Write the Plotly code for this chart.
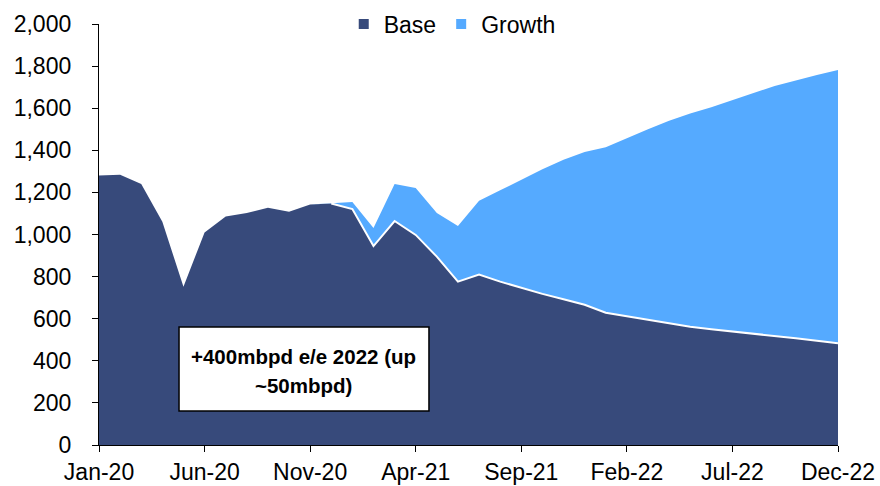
import plotly.graph_objects as go

# Monthly series, Jan-20 .. Dec-22 (mbpd)
months = [
    "Jan-20", "Feb-20", "Mar-20", "Apr-20", "May-20", "Jun-20",
    "Jul-20", "Aug-20", "Sep-20", "Oct-20", "Nov-20", "Dec-20",
    "Jan-21", "Feb-21", "Mar-21", "Apr-21", "May-21", "Jun-21",
    "Jul-21", "Aug-21", "Sep-21", "Oct-21", "Nov-21", "Dec-21",
    "Jan-22", "Feb-22", "Mar-22", "Apr-22", "May-22", "Jun-22",
    "Jul-22", "Aug-22", "Sep-22", "Oct-22", "Nov-22", "Dec-22",
]
base = [
    1280, 1284, 1240, 1060, 752, 1010,
    1085, 1102, 1127, 1108, 1142, 1147,
    1121, 945, 1064, 998, 895, 776,
    810, 776, 746, 718, 692, 666,
    628, 612, 595, 578, 562, 550,
    540, 529, 518, 507, 495, 483,
]
growth = [
    0, 0, 0, 0, 0, 0,
    0, 0, 0, 0, 0, 0,
    33, 86, 176, 223, 207, 264,
    350, 434, 514, 592, 663, 726,
    787, 846, 905, 962, 1013, 1055,
    1100, 1143, 1187, 1226, 1263, 1298,
]
tick_labels = ["Jan-20", "Jun-20", "Nov-20", "Apr-21", "Sep-21", "Feb-22", "Jul-22", "Dec-22"]
note_lines = ["+400mbpd e/e 2022 (up", "~50mbpd)"]

BASE_COLOR = "#374A7B"
GROWTH_COLOR = "#55AAFF"
FONT = "Liberation Sans, Arial, sans-serif"
AXIS_FONT = 23
NOTE_FONT = 20.5

# White separator only where the growth layer sits on top of the base
first = next(i for i, g in enumerate(growth) if g > 0) - 1
sep = [b if i >= first else None for i, b in enumerate(base)]

fig = go.Figure()
fig.add_trace(go.Scatter(
    x=months, y=base, stackgroup="s", mode="lines",
    line=dict(width=0, color=BASE_COLOR), fillcolor=BASE_COLOR,
    showlegend=False, hoverinfo="skip",
))
fig.add_trace(go.Scatter(
    x=months, y=growth, stackgroup="s", mode="lines",
    line=dict(width=0, color=GROWTH_COLOR), fillcolor=GROWTH_COLOR,
    showlegend=False, hoverinfo="skip",
))
fig.add_trace(go.Scatter(
    x=months, y=sep, mode="lines", line=dict(color="white", width=2),
    showlegend=False, hoverinfo="skip", connectgaps=False,
))
# Legend swatches
for name, col in (("Base", BASE_COLOR), ("Growth", GROWTH_COLOR)):
    fig.add_trace(go.Scatter(
        x=[None], y=[None], mode="markers", name=name,
        marker=dict(symbol="square", size=10, color=col),
    ))

# Boxed note in the lower-left of the plot
fig.add_shape(
    type="rect", xref="paper", yref="paper",
    x0=0.1083, x1=0.4465, y0=0.0808, y1=0.2803,
    fillcolor="white", line=dict(color="black", width=1.5), layer="above",
)
for text, yy in zip(note_lines, (0.2102, 0.1425)):
    fig.add_annotation(
        text=f"<b>{text}</b>", xref="paper", yref="paper",
        x=0.2774, y=yy, xanchor="center", yanchor="middle",
        showarrow=False, font=dict(family=FONT, size=NOTE_FONT, color="black"),
    )

fig.update_layout(
    width=880, height=486,
    margin=dict(l=99, r=42, t=24, b=41, autoexpand=False),
    paper_bgcolor="white", plot_bgcolor="white",
    font=dict(family=FONT, size=AXIS_FONT, color="black"),
    showlegend=True,
    legend=dict(
        orientation="h", x=0.478, xanchor="center", y=1.0, yanchor="middle",
        font=dict(family=FONT, size=AXIS_FONT), bgcolor="rgba(0,0,0,0)",
        itemwidth=30, tracegroupgap=0, traceorder="normal",
    ),
)
fig.update_xaxes(
    type="category", categoryorder="array", categoryarray=months,
    range=[0, len(months) - 1], automargin=False,
    tickmode="array", tickvals=tick_labels, ticktext=tick_labels,
    ticks="outside", ticklen=6, tickwidth=1.3, tickcolor="black",
    showline=True, linecolor="black", linewidth=1.3,
    showgrid=False, zeroline=False,
    tickfont=dict(family=FONT, size=AXIS_FONT),
)
fig.update_yaxes(
    range=[0, 2000], tickvals=list(range(0, 2001, 200)),
    tickformat=",d", automargin=False,
    ticks="outside", ticklen=6, tickwidth=1.3, tickcolor="black",
    showline=True, linecolor="black", linewidth=1.3,
    showgrid=False, zeroline=False,
    ticklabelstandoff=16,
    tickfont=dict(family=FONT, size=AXIS_FONT),
)

fig.write_html("out.html")
